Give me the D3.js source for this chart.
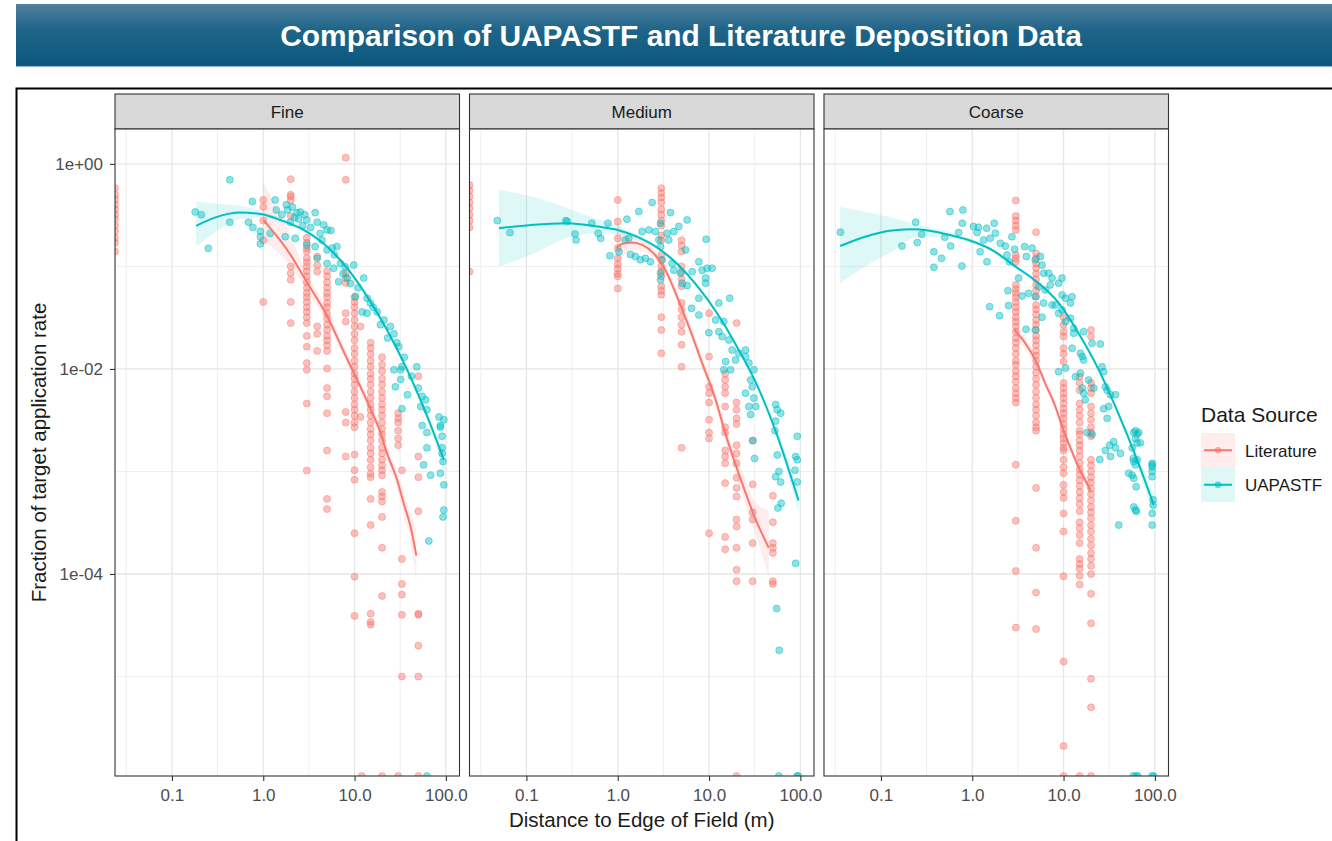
<!DOCTYPE html>
<html><head><meta charset="utf-8">
<script src="https://cdn.jsdelivr.net/npm/d3@7"></script>
<style>body{margin:0;background:#fff;} svg{display:block;}</style>
</head><body><svg id="chart" width="1332" height="841"></svg>
<script>
// ---------------- DATA ----------------
const chartTitle = "Comparison of UAPASTF and Literature Deposition Data";
const facets = ["Fine", "Medium", "Coarse"];
const sources = ["Literature", "UAPASTF"];
const xTicks = [0.1, 1, 10, 100];
const xTickLabels = ["0.1", "1.0", "10.0", "100.0"];
const xMinorBreaks = [0.0316, 0.316, 3.16, 31.6];
const yTicks = [1, 1e-2, 1e-4];
const yTickLabels = ["1e+00", "1e-02", "1e-04"];
const yMinorBreaks = [1e-1, 1e-3, 1e-5];
const xTitle = "Distance to Edge of Field (m)";
const yTitle = "Fraction of target application rate";
const legendTitle = "Data Source";

// Literature: columns [distance (m), [fractions]]; distance 0 / fraction 0 sit on the panel edge
const fineLiterature = [
 [0, [0.58,0.5,0.45,0.4,0.36,0.32,0.29,0.25,0.22,0.19,0.17,0.14]],
 [1, [0.445,0.38,0.28,0.18,0.045]],
 [2, [0.71,0.5,0.48,0.44,0.31,0.1,0.086,0.074,0.045,0.028]],
 [3, [0.19,0.17,0.15,0.14,0.12,0.11,0.1,0.09,0.08,0.07,0.062,0.055,0.05,0.045,0.04,0.036,0.032,0.028,0.021,0.0165,0.0114,0.0098,0.0046,0.00102]],
 [3.9, [0.125,0.103,0.089,0.026,0.022,0.015]],
 [5, [0.09,0.08,0.07,0.062,0.055,0.05,0.044,0.04,0.035,0.031,0.027,0.024,0.021,0.019,0.017,0.015,0.0101,0.0065,0.0054,0.0037,0.0016,0.00054,0.00043]],
 [8, [1.15,0.7,0.086,0.077,0.069,0.035,0.029,0.0038,0.003,0.0014]],
 [10, [0.05,0.045,0.04,0.035,0.03,0.026,0.022,0.019,0.016,0.014,0.012,0.0105,0.009,0.008,0.007,0.006,0.0052,0.0045,0.004,0.0035,0.003,0.0027,0.00146,0.00103,0.00083,0.00025,9.4e-5,3.9e-5]],
 [11.6, [0.026,0.0034]],
 [12, [0]],
 [15, [0.018,0.016,0.014,0.012,0.0105,0.009,0.008,0.007,0.006,0.0052,0.0045,0.004,0.0035,0.003,0.0026,0.0023,0.002,0.0017,0.0015,0.0013,0.0011,0.00095,0.00088,0.00054,0.0003,4.1e-5,3.4e-5,3.2e-5]],
 [20, [0.013,0.011,0.0095,0.008,0.007,0.006,0.0052,0.0045,0.004,0.0035,0.003,0.0026,0.0023,0.002,0.0017,0.0015,0.0013,0.00115,0.00103,0.00092,0.00063,0.00057,0.00051,0.00036,0.00018,6.1e-5,0]],
 [30, [0.0037,0.0033,0.003,0.0025,0.0021,0.0018,0]],
 [33, [0.00103,0.00014,8e-5,6.3e-5,4e-5,1e-5]],
 [50, [0.0085,0.0014,0.00088,0.00041,4.1e-5,4e-5,2e-5,1e-5,0]]
];
const mediumLiterature = [
 [0, [0.62,0.55,0.48,0.42,0.37,0.32,0.28,0.24,0.089]],
 [1, [0.445,0.274,0.188,0.151,0.12,0.105,0.095,0.085,0.08,0.061]],
 [3, [0.58,0.52,0.47,0.42,0.36,0.32,0.28,0.25,0.2,0.18,0.13,0.115,0.1,0.09,0.08,0.064,0.058,0.053,0.032,0.024,0.0142]],
 [5, [0.18,0.16,0.14,0.1,0.088,0.075,0.064,0.044,0.038,0.032,0.027,0.023,0.0172,0.0105,0.0017]],
 [10, [0.035,0.0132,0.0067,0.0058,0.0047,0.0032,0.0024,0.0021,0.00025]],
 [15, [0.009,0.0078,0.0067,0.0058,0.0043,0.0027,0.0024,0.0016,0.0014,0.0012,0.00077,0.00023,0.000174]],
 [20, [0.028,0.0047,0.004,0.0033,0.0029,0.0018,0.0015,0.0012,0.00087,0.00069,0.00057,0.00034,0.00029,0.00018,0.00011,8.5e-5,0]],
 [30, [0.002,0.00075,0.0004,0.00034,0.0002,8.5e-5]],
 [50, [0.00058,0.00032,0.0002,0.00018,0.00016,8.5e-5,8e-5]]
];
const coarseLiterature = [
 [3, [0.44,0.31,0.28,0.25,0.227,0.129,0.12,0.111,0.066,0.06,0.055,0.05,0.045,0.04,0.036,0.032,0.029,0.026,0.023,0.02,0.018,0.016,0.014,0.012,0.011,0.0095,0.0085,0.0075,0.0065,0.0058,0.0052,0.0047,0.00116,0.00033,0.000107,3e-5]],
 [5, [0.216,0.134,0.12,0.107,0.096,0.085,0.075,0.066,0.058,0.051,0.042,0.038,0.034,0.03,0.027,0.024,0.021,0.019,0.017,0.015,0.0135,0.012,0.0105,0.0092,0.008,0.007,0.006,0.0052,0.0045,0.004,0.0035,0.003,0.0027,0.0025,0.00069,0.00018,6.6e-5,2.9e-5]],
 [10, [0.032,0.027,0.023,0.0207,0.0159,0.014,0.0118,0.0073,0.0065,0.0058,0.0052,0.0046,0.0041,0.0037,0.0033,0.0029,0.0026,0.0023,0.0021,0.0019,0.0017,0.0016,0.0013,0.0011,0.00096,0.00074,0.00063,0.00055,0.00039,0.00026,9.5e-5,1.4e-5,2.1e-6,0]],
 [15, [0.0084,0.0073,0.0062,0.0046,0.004,0.0035,0.003,0.0025,0.0023,0.002,0.0018,0.0016,0.0014,0.0012,0.00105,0.00093,0.00082,0.00072,0.00063,0.00055,0.00048,0.00041,0.00032,0.00028,0.00024,0.0002,0.00014,0.000125,0.000113,9.6e-5,7.9e-5,0]],
 [20, [0.024,0.0207,0.0073,0.0065,0.0058,0.0043,0.0037,0.0032,0.0027,0.0024,0.0022,0.0013,0.00115,0.001,0.00088,0.00078,0.00068,0.0006,0.00052,0.00045,0.0004,0.00035,0.0003,0.00026,0.00022,0.00019,0.00016,0.00014,0.00012,0.0001,6.4e-5,3.3e-5,9.5e-6,5e-6,0]]
];

// UAPASTF: [distance (m), fraction]
const fineUapastf = [[0.18,0.34],[0.21,0.32],[0.25,0.15],[0.43,0.7],[0.43,0.27],[0.69,0.27],[0.77,0.24],[0.76,0.43],[0.93,0.22],[0.93,0.195],[0.93,0.166],[1.19,0.21],[1.35,0.445],[1.39,0.356],[1.79,0.4],[1.85,0.356],[1.98,0.27],[2.34,0.335],[2.44,0.29],[2.84,0.32],[3.0,0.284],[3.7,0.335],[3.9,0.27],[4.6,0.254],[5.0,0.227],[5.5,0.224],[1.74,0.195],[2.24,0.188],[3.0,0.162],[3.7,0.156],[3.9,0.12],[5.0,0.145],[5.7,0.151],[6.4,0.156],[5.0,0.107],[5.9,0.096],[7.0,0.107],[7.9,0.0995],[9.8,0.103],[6.7,0.071],[8.3,0.077],[10.2,0.051],[12.6,0.077],[13.7,0.049],[14.9,0.044],[17.7,0.036],[12.1,0.036],[13.7,0.035],[19.2,0.027],[24.7,0.026],[27,0.022],[29,0.018],[30.5,0.0165],[27,0.0098],[32,0.0098],[32,0.0079],[33,0.0105],[48,0.0105],[28,0.0067],[38,0.0056],[33,0.0041],[55,0.0054],[60,0.005],[53,0.0043],[62,0.004],[84,0.0034],[95,0.0032],[87,0.0027],[62,0.0024],[91,0.0022],[55,0.0028],[62,0.0017],[57,0.00116],[68,0.00092],[87,0.0028],[91,0.0017],[91,0.0015],[93,0.00125],[87,0.00096],[95,0.00074],[95,0.00042],[93,0.00036],[65,0.00021],[62,0],[2.08,0.38],[2.55,0.34],[1.6,0.32],[2.2,0.3],[2.7,0.25],[3.3,0.24],[4.2,0.21],[4.4,0.18],[6,0.13],[7.5,0.085],[9,0.068],[11,0.062],[16,0.04],[21,0.03],[23,0.02],[35,0.013],[42,0.0085],[50,0.0065]];
const mediumUapastf = [[0.048,0.28],[0.066,0.214],[0.27,0.28],[0.28,0.274],[0.34,0.207],[0.35,0.181],[0.52,0.264],[0.61,0.211],[0.65,0.188],[0.78,0.264],[1.26,0.289],[0.82,0.127],[1.03,0.139],[1.21,0.181],[1.32,0.188],[1.7,0.343],[1.85,0.219],[2.19,0.227],[1.38,0.131],[1.56,0.125],[1.77,0.116],[2.01,0.12],[2.28,0.111],[2.38,0.42],[2.59,0.219],[2.82,0.181],[2.94,0.156],[2.94,0.264],[2.94,0.086],[2.94,0.074],[3.06,0.116],[3.47,0.211],[3.62,0.181],[3.78,0.335],[4.11,0.219],[4.67,0.245],[3.94,0.107],[4.11,0.092],[4.87,0.086],[5.07,0.0686],[5.52,0.145],[5.75,0.284],[5.75,0.065],[6.53,0.089],[6.43,0.039],[7.73,0.111],[7.73,0.049],[7.73,0.0336],[8.4,0.092],[9.16,0.077],[9.16,0.0686],[9.29,0.184],[9.53,0.096],[10.8,0.096],[9.95,0.0226],[12.8,0.0231],[12.8,0.044],[14.5,0.029],[11.8,0.03],[16.8,0.049],[13.9,0.0207],[16.5,0.0192],[17.9,0.0153],[17.2,0.0098],[15.2,0.0118],[14.5,0.0098],[19.5,0.0122],[21.2,0.0142],[25.1,0.0153],[25.1,0.0132],[27.3,0.0114],[31,0.0098],[25.1,0.0058],[28.5,0.0078],[29.7,0.0067],[27.3,0.0043],[28.5,0.0036],[32.4,0.0043],[31,0.0052],[53.6,0.0045],[55.8,0.004],[60.8,0.0037],[53.6,0.0031],[52.6,0.0025],[92.5,0.0022],[30.2,0.002],[31.5,0.00134],[55.8,0.00145],[58.2,0.001],[53.6,0.00089],[60.8,0.00079],[61.7,0.00049],[56.8,0.00044],[88.8,0.0014],[92.5,0.0013],[87.3,0.00103],[92.5,0.00079],[88.8,0.000127],[55,4.6e-5],[58.7,1.8e-5],[58,0],[92,0],[95,0]];
const coarseUapastf = [[0.036,0.216],[0.17,0.158],[0.24,0.27],[0.25,0.171],[0.28,0.206],[0.38,0.139],[0.46,0.12],[0.38,0.098],[0.5,0.193],[0.57,0.343],[0.79,0.356],[0.58,0.158],[0.71,0.214],[0.78,0.264],[0.77,0.101],[1.03,0.245],[1.17,0.241],[1.44,0.236],[1.74,0.264],[1.13,0.214],[1.33,0.181],[1.57,0.188],[1.79,0.211],[2.03,0.168],[2.3,0.158],[1.22,0.139],[1.45,0.111],[2.4,0.129],[2.56,0.111],[2.91,0.147],[2.72,0.195],[3.22,0.077],[3.74,0.156],[4.51,0.151],[3.91,0.125],[2.46,0.058],[3.51,0.0515],[4.14,0.0548],[1.55,0.0405],[1.99,0.0331],[2.5,0.0415],[4.91,0.116],[5.57,0.125],[5.81,0.103],[6.05,0.086],[6.87,0.086],[7.48,0.077],[5.33,0.0635],[6.31,0.059],[7.16,0.066],[8.84,0.0686],[9.63,0.077],[4.91,0.0507],[6.05,0.044],[7.48,0.0421],[5.81,0.032],[4.91,0.024],[3.88,0.0244],[9.63,0.0527],[10.5,0.049],[12.4,0.0507],[11.9,0.044],[8.13,0.0421],[8.84,0.0349],[9.63,0.0377],[10.5,0.029],[11.9,0.0312],[12.9,0.025],[8.84,0.0094],[10.5,0.0102],[12.9,0.0223],[16.6,0.0231],[12.4,0.0159],[15.3,0.0142],[16,0.0132],[16.6,0.0122],[13.5,0.0084],[15.3,0.0091],[16,0.0065],[16.6,0.0058],[18.8,0.0078],[21.4,0.0065],[17.3,0.005],[20.5,0.0178],[25.3,0.0175],[18.1,0.0024],[20.5,0.0023],[26.4,0.0105],[27.5,0.0094],[28.7,0.0067],[30,0.0062],[32.6,0.0056],[37,0.0056],[31.2,0.0043],[27.5,0.0041],[30,0.0033],[35.4,0.00195],[37,0.0017],[42,0.0015],[61.3,0.0025],[64,0.0023],[58.7,0.0024],[61.3,0.0021],[64,0.0019],[66.6,0.0024],[56.4,0.0017],[93.4,0.00116],[93.4,0.001],[93.4,0.00089],[51.7,0.00096],[58.7,0.00086],[64,0.0013],[24.9,0.00131],[28.7,0.0016],[32,0.0018],[32.6,0.0014],[40.2,0.0003],[57.8,0.00134],[58.7,0.00125],[61.3,0.00116],[56.4,0.00092],[62.4,0.00071],[58.7,0.00045],[61.3,0.00042],[62.8,0.00041],[69.5,0.0019],[93.4,0.0012],[93.4,0.00111],[95.8,0.00053],[95.8,0.00047],[93.4,0.00039],[93.4,0.0003],[58,0],[62,0],[65,0],[93,0],[97,0]];

// Smooth fits: [distance, fit, lower, upper]
const fineLiteratureFit = [[1,0.284,0.18,0.66],[2,0.129,0.1,0.2],[2.9,0.074,0.062,0.09],[4.9,0.034,0.029,0.04],[8.3,0.0125,0.011,0.0143],[11.6,0.0067,0.0059,0.0077],[15.5,0.0038,0.0033,0.0044],[19.2,0.0024,0.0021,0.0028],[22.7,0.0015,0.00125,0.0018],[29.2,0.00083,0.00068,0.001],[34.5,0.00049,0.00038,0.00063],[41,0.00029,0.00021,0.0004],[47.5,0.000151,0.000088,0.00026]];
const fineUapastfFit = [[0.184,0.249,0.156,0.43],[0.285,0.296,0.21,0.41],[0.56,0.335,0.29,0.39],[0.93,0.325,0.3,0.35],[1.54,0.284,0.27,0.3],[2.77,0.227,0.215,0.24],[5.0,0.156,0.148,0.164],[8.3,0.096,0.091,0.101],[13.7,0.051,0.048,0.054],[22.7,0.024,0.0225,0.0256],[37.7,0.0098,0.009,0.0107],[62,0.0035,0.0032,0.0039],[95,0.0013,0.001,0.0016]];
const mediumLiteratureFit = [[0.97,0.151,0.09,0.3],[1.1,0.165,0.12,0.23],[1.43,0.171,0.145,0.2],[1.85,0.162,0.142,0.185],[2.48,0.134,0.12,0.15],[3.33,0.092,0.083,0.102],[4.3,0.055,0.049,0.062],[6.0,0.026,0.0228,0.03],[8.4,0.0114,0.0099,0.0132],[11.8,0.005,0.0043,0.0058],[15.2,0.0023,0.0019,0.0028],[23,0.00077,0.0006,0.001],[32.4,0.00034,0.00024,0.0005],[45,0.00018,0.000095,0.00042]];
const mediumUapastfFit = [[0.05,0.236,0.1,0.56],[0.112,0.254,0.13,0.48],[0.282,0.264,0.19,0.37],[0.603,0.245,0.21,0.29],[1,0.227,0.205,0.25],[1.62,0.195,0.185,0.205],[2.69,0.153,0.146,0.16],[4.47,0.106,0.101,0.111],[7.41,0.0646,0.0615,0.068],[12.3,0.0347,0.033,0.0365],[20.4,0.0162,0.0153,0.0171],[33.9,0.0068,0.0064,0.0072],[56.2,0.0022,0.002,0.0025],[95.5,0.00052,0.0004,0.00066]];
const coarseLiteratureFit = [[2.91,0.024,0.02,0.029],[3.81,0.0178,0.0155,0.0205],[4.91,0.0122,0.011,0.0136],[6.31,0.0072,0.0065,0.008],[8.13,0.0043,0.0039,0.0048],[10,0.0025,0.0023,0.0028],[11.9,0.0017,0.00155,0.0019],[14.6,0.0011,0.001,0.0012],[17,0.00085,0.00075,0.00097],[19.7,0.00065,0.00055,0.00078]];
const coarseUapastfFit = [[0.0357,0.158,0.069,0.38],[0.067,0.195,0.1,0.34],[0.132,0.224,0.14,0.3],[0.237,0.231,0.19,0.26],[0.466,0.211,0.195,0.225],[0.91,0.181,0.172,0.19],[1.64,0.145,0.138,0.152],[2.96,0.1,0.095,0.105],[5.33,0.0686,0.065,0.072],[8.84,0.044,0.042,0.046],[14.6,0.0223,0.0211,0.0235],[24.3,0.0098,0.0092,0.0104],[40.2,0.0036,0.0033,0.0039],[66.6,0.00118,0.00102,0.00135],[97.3,0.00047,0.00036,0.0006]];

const sourceColors = ["#F8766D", "#00BFC4"];

// ---------------- DRAW ----------------
const svg = d3.select("#chart");
const font = "'Liberation Sans', Arial, Helvetica, sans-serif";
const defs = svg.append("defs");
const grad = defs.append("linearGradient").attr("id","bannerGrad").attr("x1",0).attr("y1",0).attr("x2",0).attr("y2",1);
grad.append("stop").attr("offset","0%").attr("stop-color","#527f9c");
grad.append("stop").attr("offset","40%").attr("stop-color","#1f6589");
grad.append("stop").attr("offset","100%").attr("stop-color","#0b567e");

svg.append("rect").attr("x",16).attr("y",4).attr("width",1316).attr("height",63).attr("fill","url(#bannerGrad)");
svg.append("rect").attr("x",16).attr("y",66).attr("width",1316).attr("height",1.2).attr("fill","#9fb7c7");
const titleText = svg.append("text").attr("x",681).attr("y",46).attr("text-anchor","middle")
  .attr("font-family",font).attr("font-weight","bold").attr("font-size",30).attr("fill","#ffffff").text(chartTitle);
const tl = titleText.node().getComputedTextLength();
titleText.attr("font-size", 30 * 802 / tl);

// outer frame
svg.append("path").attr("d","M16.5,841 V88.5 H1332").attr("fill","none").attr("stroke","#000").attr("stroke-width",2);

const P = {left:115, top:129, width:344.5, height:647, step:354.5, stripTop:94};
const x = d3.scaleLog().domain([0.0238, 141]).range([0, P.width]);
const y = d3.scaleLog().domain([1.07e-6, 2.19]).range([P.height, 0]);
const px = d => d > 0 ? x(d) : 0;
const py = v => v > 0 ? y(v) : P.height;

const litData = [fineLiterature, mediumLiterature, coarseLiterature];
const uapData = [fineUapastf, mediumUapastf, coarseUapastf];
const litFits = [fineLiteratureFit, mediumLiteratureFit, coarseLiteratureFit];
const uapFits = [fineUapastfFit, mediumUapastfFit, coarseUapastfFit];

const area = d3.area().x(d => x(d[0])).y0(d => y(d[2])).y1(d => y(d[3])).curve(d3.curveMonotoneX);
const line = d3.line().x(d => x(d[0])).y(d => y(d[1])).curve(d3.curveMonotoneX);

facets.forEach((name, i) => {
  const gx = P.left + i * P.step;
  // strip
  svg.append("rect").attr("x", gx).attr("y", P.stripTop).attr("width", P.width).attr("height", P.top - P.stripTop)
    .attr("fill","#d9d9d9").attr("stroke","#333").attr("stroke-width",1.1);
  svg.append("text").attr("x", gx + P.width/2).attr("y", P.stripTop + 24).attr("text-anchor","middle")
    .attr("font-family",font).attr("font-size",17).attr("fill","#1a1a1a").text(name);

  const g = svg.append("g").attr("transform", `translate(${gx},${P.top})`);
  defs.append("clipPath").attr("id","clip"+i).append("rect").attr("width",P.width).attr("height",P.height);
  g.append("rect").attr("width",P.width).attr("height",P.height).attr("fill","#fff");

  // grid
  const grid = g.append("g");
  grid.selectAll(".xm").data(xMinorBreaks).join("line").attr("x1",d=>x(d)).attr("x2",d=>x(d)).attr("y1",0).attr("y2",P.height).attr("stroke","#efefef").attr("stroke-width",1);
  grid.selectAll(".ym").data(yMinorBreaks).join("line").attr("y1",d=>y(d)).attr("y2",d=>y(d)).attr("x1",0).attr("x2",P.width).attr("stroke","#efefef").attr("stroke-width",1);
  grid.selectAll(".xM").data(xTicks).join("line").attr("x1",d=>x(d)).attr("x2",d=>x(d)).attr("y1",0).attr("y2",P.height).attr("stroke","#e6e6e6").attr("stroke-width",1.3);
  grid.selectAll(".yM").data(yTicks).join("line").attr("y1",d=>y(d)).attr("y2",d=>y(d)).attr("x1",0).attr("x2",P.width).attr("stroke","#e6e6e6").attr("stroke-width",1.3);

  const plot = g.append("g").attr("clip-path", `url(#clip${i})`);
  // ribbons
  [litFits[i], uapFits[i]].forEach((fit, s) => {
    plot.append("path").datum(fit).attr("d", area).attr("fill", sourceColors[s]).attr("fill-opacity", 0.13);
  });
  // points
  const litPts = litData[i].flatMap(([d, vals]) => vals.map(v => [d, v]));
  [litPts, uapData[i]].forEach((pts, s) => {
    plot.append("g").selectAll("circle").data(pts).join("circle")
      .attr("cx", d => px(d[0])).attr("cy", d => py(d[1])).attr("r", 3.5)
      .attr("fill", sourceColors[s]).attr("fill-opacity", 0.45)
      .attr("stroke", sourceColors[s]).attr("stroke-opacity", 0.45).attr("stroke-width", 1);
  });
  // lines
  [litFits[i], uapFits[i]].forEach((fit, s) => {
    plot.append("path").datum(fit).attr("d", line).attr("fill","none").attr("stroke", sourceColors[s]).attr("stroke-width", 2);
  });

  // border
  g.append("rect").attr("width",P.width).attr("height",P.height).attr("fill","none").attr("stroke","#333").attr("stroke-width",1.1);

  // x axis
  const xa = g.append("g").attr("transform", `translate(0,${P.height})`)
    .call(d3.axisBottom(x).tickValues(xTicks).tickFormat((d,k)=>xTickLabels[k]).tickSize(5).tickPadding(8));
  xa.select(".domain").remove();
  xa.selectAll(".tick line").attr("stroke","#333").attr("stroke-width",1.1);
  xa.selectAll("text").attr("font-family",font).attr("font-size",17).attr("fill","#4d4d4d");

  if (i === 0) {
    const ya = g.append("g").call(d3.axisLeft(y).tickValues(yTicks).tickFormat((d,k)=>yTickLabels[k]).tickSize(5).tickPadding(7));
    ya.select(".domain").remove();
    ya.selectAll(".tick line").attr("stroke","#333").attr("stroke-width",1.1);
    ya.selectAll("text").attr("font-family",font).attr("font-size",17).attr("fill","#4d4d4d");
  }
});

// axis titles
svg.append("text").attr("x", P.left + (2*P.step + P.width)/2).attr("y", 827).attr("text-anchor","middle")
  .attr("font-family",font).attr("font-size",20.5).attr("fill","#1a1a1a").text(xTitle);
svg.append("text").attr("transform", `translate(46,${P.top + P.height/2}) rotate(-90)`).attr("text-anchor","middle")
  .attr("font-family",font).attr("font-size",20.5).attr("fill","#1a1a1a").text(yTitle);

// legend
const lg = svg.append("g").attr("transform","translate(1201,0)");
lg.append("text").attr("x",0).attr("y",422).attr("font-family",font).attr("font-size",21).attr("fill","#1a1a1a").text(legendTitle);
sources.forEach((s, k) => {
  const ky = 433 + k * 34.5;
  lg.append("rect").attr("x",0).attr("y",ky).attr("width",34).attr("height",34.5).attr("fill",sourceColors[k]).attr("fill-opacity",0.13);
  lg.append("line").attr("x1",3).attr("x2",31).attr("y1",ky+17.25).attr("y2",ky+17.25).attr("stroke",sourceColors[k]).attr("stroke-width",2);
  lg.append("circle").attr("cx",17).attr("cy",ky+17.25).attr("r",3.2).attr("fill",sourceColors[k]).attr("fill-opacity",0.6);
  lg.append("text").attr("x",44).attr("y",ky+23.5).attr("font-family",font).attr("font-size",17).attr("fill","#1a1a1a").text(s);
});
</script>
</body></html>
